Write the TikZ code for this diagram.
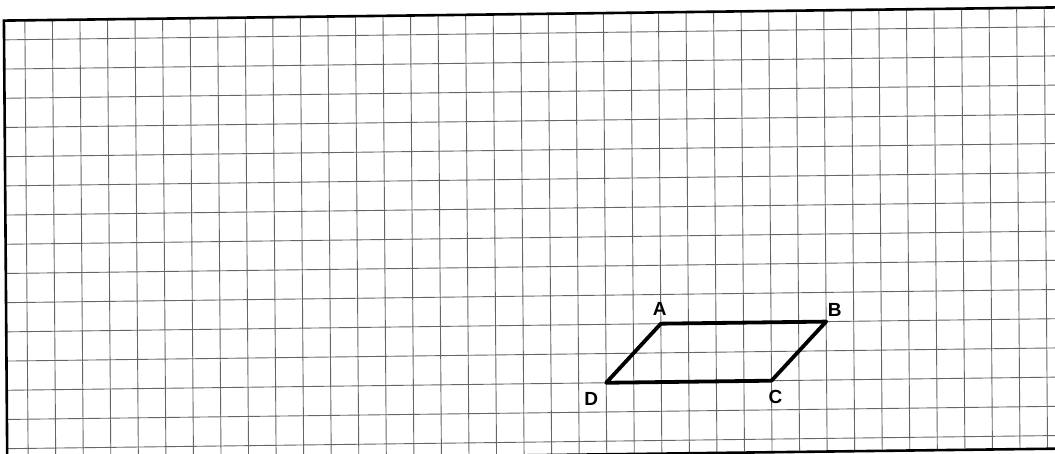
\documentclass[tikz,border=0pt]{standalone}
\usepackage{fontspec}
\setmainfont{Liberation Sans}
\tikzset{
  gridline/.style={draw=black!60, line width=0.9pt},
  frameline/.style={draw=black, line width=2.6pt},
  figline/.style={draw=black, line width=3.8pt, line join=round},
  vlabel/.style={font=\bfseries\fontsize{19}{19}\selectfont, inner sep=0pt}
}
\begin{document}
\begin{tikzpicture}
\fill[white] (0pt,0pt) rectangle (1055pt,-453pt);
\useasboundingbox (0pt,0pt) rectangle (1055pt,-453pt);
\clip (0pt,0pt) rectangle (1055pt,-453pt);
\begin{scope}[shift={(25pt,-39.6pt)}, x={(27.55pt,0.345pt)}, y={(0.22pt,-29.2pt)}]
  \foreach \i in {0,...,38} \draw[gridline] (\i,-0.66) -- (\i,14.41);
  \foreach \j in {0,...,14} \draw[gridline] (-0.76,\j) -- (39,\j);
  \draw[frameline] (39,-0.66) -- (-0.76,-0.66) -- (-0.76,15) ;
  \draw[frameline] (-0.76,14.45) -- (39,14.45);
  \coordinate (A) at (23,10);
  \coordinate (B) at (29,10);
  \coordinate (C) at (27,12);
  \coordinate (D) at (21,12);
\end{scope}
\draw[figline] (A) -- (B) -- (C) -- (D) -- cycle;
\node[vlabel] (la) at ([shift={(-1pt,15pt)}]A) {A};
\node[vlabel] (lb) at ([shift={(8.5pt,12pt)}]B) {B};
\node[vlabel] (lc) at ([shift={(4pt,-16.5pt)}]C) {C};
\node[vlabel] (ld) at ([shift={(-15pt,-16pt)}]D) {D};
\end{tikzpicture}
\end{document}
